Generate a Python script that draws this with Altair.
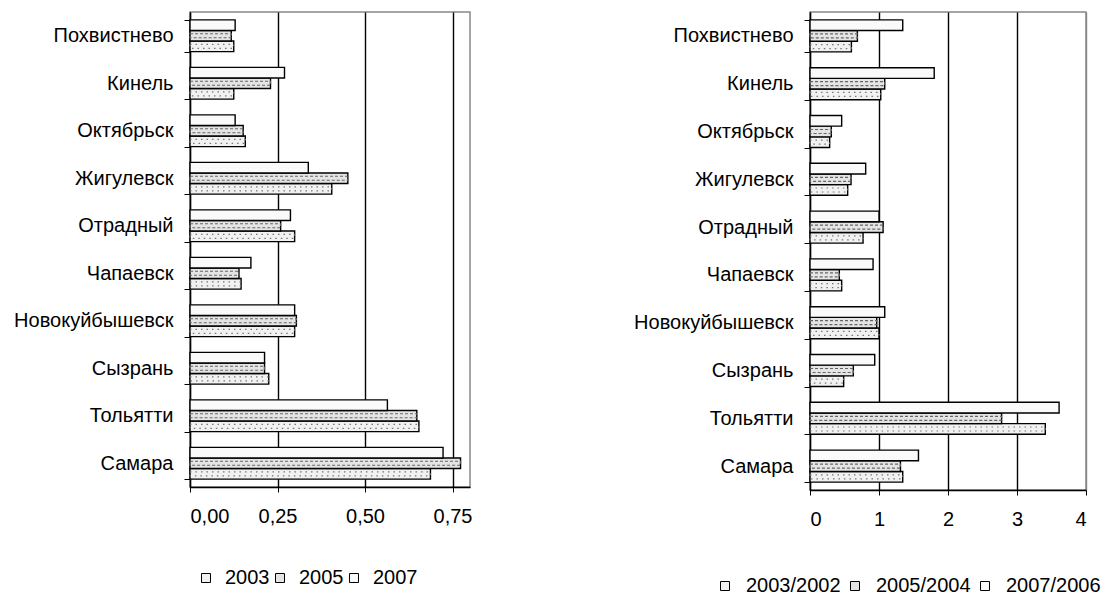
import altair as alt
import pandas as pd

cities = ["Похвистнево", "Кинель", "Октябрьск", "Жигулевск", "Отрадный",
          "Чапаевск", "Новокуйбышевск", "Сызрань", "Тольятти", "Самара"]

# left panel
left_series = ["2003", "2005", "2007"]
share_2003 = [0.125, 0.125, 0.158, 0.405, 0.299, 0.146, 0.299, 0.225, 0.654, 0.687]
share_2005 = [0.118, 0.230, 0.152, 0.451, 0.259, 0.140, 0.304, 0.213, 0.648, 0.773]
share_2007 = [0.129, 0.270, 0.129, 0.338, 0.287, 0.174, 0.299, 0.213, 0.564, 0.723]
left_ticks = [0, 0.25, 0.5, 0.75]

# right panel
right_series = ["2003/2002", "2005/2004", "2007/2006"]
ratio_2003 = [0.600, 1.025, 0.285, 0.546, 0.769, 0.459, 1.000, 0.488, 3.410, 1.344]
ratio_2005 = [0.687, 1.083, 0.309, 0.595, 1.060, 0.425, 0.967, 0.628, 2.777, 1.311]
ratio_2007 = [1.344, 1.800, 0.459, 0.807, 1.000, 0.914, 1.083, 0.938, 3.610, 1.572]
right_ticks = [0, 1, 2, 3, 4]

FILLS = ["#f1f1f1", "#e4e4e4", "#fafafa"]
FONT = "Liberation Sans"
FS = 20


def make_df(series, cols):
    rows = []
    for s, vals in zip(series, cols):
        for c, v in zip(cities, vals):
            rows.append({"city": c, "series": s, "value": v})
    return pd.DataFrame(rows)


def panel(df, series, xmax, ticks, label_expr, w, h, grid_color, lx, ly, colpad, loff):
    base = alt.Chart(df)
    y = alt.Y("city:N", sort=cities,
              scale=alt.Scale(domain=cities, paddingInner=0.33, paddingOuter=0.165),
              axis=alt.Axis(title=None, tickBand="extent", tickSize=6, labelPadding=11,
                            domainColor="black", tickColor="black", domainWidth=1.3,
                            labelFontSize=FS, labelColor="black", labelFont=FONT,
                            grid=False))
    x = alt.X("value:Q", scale=alt.Scale(domain=[0, xmax], nice=False, zero=True),
              axis=alt.Axis(title=None, values=ticks, labelExpr=label_expr, grid=True,
                            gridColor=grid_color, gridWidth=1.4, gridOpacity=1,
                            tickSize=5, labelPadding=14, domainColor="black",
                            domainWidth=1.3, tickColor="black", labelFontSize=FS,
                            labelColor="black", labelFont=FONT))
    yoff = alt.YOffset("series:N",
                       scale=alt.Scale(domain=[series[2], series[1], series[0]],
                                       paddingInner=0, paddingOuter=0))
    fill = alt.Fill("series:N", scale=alt.Scale(domain=series, range=FILLS),
                    legend=alt.Legend(orient="none", legendX=lx, legendY=ly,
                                      direction="horizontal", title=None, padding=0,
                                      labelFontSize=FS, labelFont=FONT, labelColor="black",
                                      symbolType="square", symbolSize=81,
                                      symbolStrokeColor="black", symbolStrokeWidth=1,
                                      labelOffset=loff, columnPadding=colpad,
                                      labelLimit=300))
    bars = base.mark_bar(stroke="black", strokeWidth=1.4, opacity=1).encode(
        y=y, x=x, yOffset=yoff, fill=fill)
    pat_a = base.transform_filter(alt.datum.series == series[0]).mark_bar(
        height=4, fillOpacity=0, stroke="#777777", strokeWidth=1.2, strokeDash=[1.5, 4]
    ).encode(y=y, x=x, yOffset=yoff)
    pat_b = base.transform_filter(alt.datum.series == series[1]).mark_bar(
        height=4, fillOpacity=0, stroke="#666666", strokeWidth=1.2, strokeDash=[3, 2]
    ).encode(y=y, x=x, yOffset=yoff)
    return alt.layer(bars, pat_a, pat_b).properties(width=w, height=h)


left_df = make_df(left_series, [share_2003, share_2005, share_2007])
right_df = make_df(right_series, [ratio_2003, ratio_2005, ratio_2007])

left = panel(left_df, left_series, 0.8, left_ticks,
             "replace(format(datum.value, '.2f'), '.', ',')", 280, 475,
             "black", 6, 556, 0, 9)
right = panel(right_df, right_series, 4, right_ticks,
              "format(datum.value, 'd')", 276, 478,
              {"condition": {"test": "datum.value >= 4", "value": "#888888"},
               "value": "black"}, -95, 564, 4, 11)

chart = alt.hconcat(left, right, spacing=159).resolve_scale(
    fill="independent", yOffset="independent"
).properties(
    padding={"left": 4, "top": -7, "right": 0, "bottom": 0}
).configure(font=FONT).configure_view(stroke="#888888", strokeWidth=1.5)

chart.save("out.html", embed_options={"renderer": "svg", "actions": False})
